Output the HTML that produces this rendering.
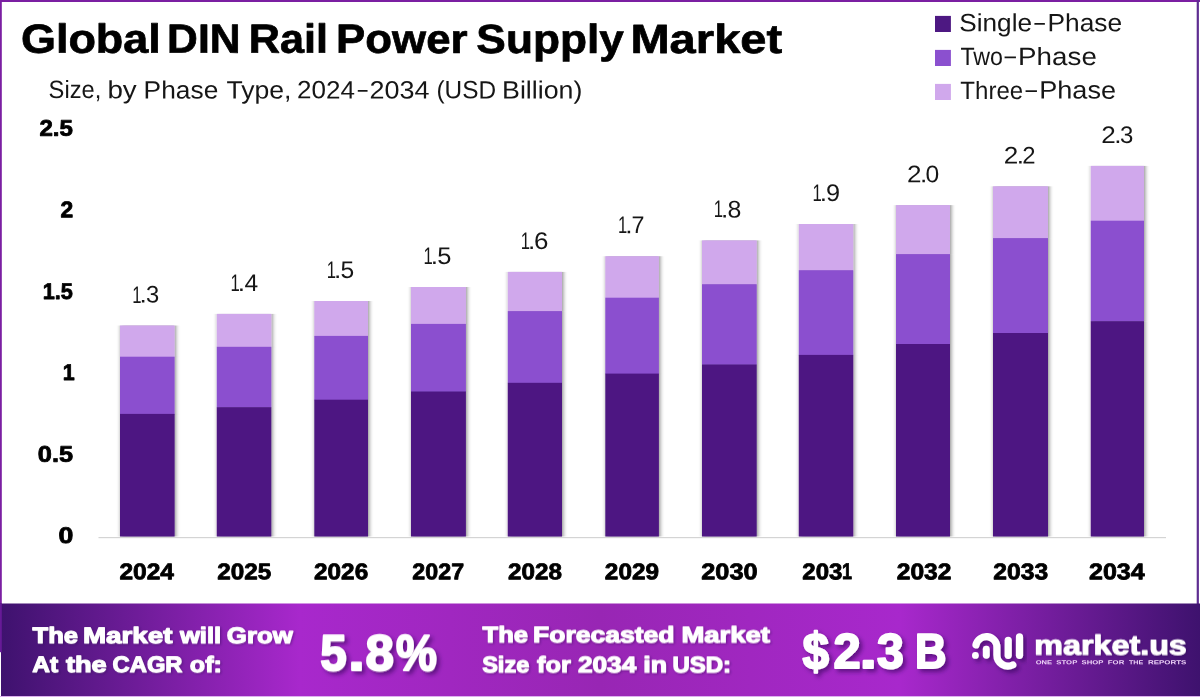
<!DOCTYPE html>
<html lang="en"><head><meta charset="utf-8"><title>Global DIN Rail Power Supply Market</title>
<style>
html,body{margin:0;padding:0;background:#fff}
body{width:1200px;height:697px;overflow:hidden}
svg{display:block;font-family:"Liberation Sans",sans-serif;text-rendering:geometricPrecision}
</style></head><body>
<svg width="1200" height="697" viewBox="0 0 1200 697">
<defs>
<linearGradient id="fg" x1="0" y1="0" x2="1" y2="0">
<stop offset="0" stop-color="#3e126e"/>
<stop offset="0.25" stop-color="#a828cc"/>
<stop offset="0.5" stop-color="#9826b4"/>
<stop offset="0.75" stop-color="#a828cc"/>
<stop offset="1" stop-color="#3e126e"/>
</linearGradient>
<filter id="bs" x="-20%" y="-5%" width="140%" height="110%"><feGaussianBlur in="SourceAlpha" stdDeviation="2.1 0.5"/><feOffset dx="0.7" dy="0.2"/><feComponentTransfer><feFuncA type="linear" slope="0.5"/></feComponentTransfer><feMerge><feMergeNode/><feMergeNode in="SourceGraphic"/></feMerge></filter>
<filter id="ts" x="-10%" y="-20%" width="120%" height="150%"><feDropShadow dx="1.2" dy="1.2" stdDeviation="1.2" flood-color="#2a0050" flood-opacity="0.4"/></filter>
<filter id="ts2" x="-10%" y="-20%" width="125%" height="160%"><feDropShadow dx="3" dy="3" stdDeviation="2.2" flood-color="#2a0050" flood-opacity="0.55"/></filter>
</defs>
<rect width="1200" height="697" fill="#fff"/>

<rect x="0" y="0" width="1200" height="2" fill="#7b1fa2"/>
<rect x="0" y="0" width="1.8" height="604" fill="#7b1fa2"/>
<rect x="1196.7" y="0" width="2.2" height="604" fill="#5e2d91"/>
<text transform="matrix(1 0.0005 0 1 0 0)" y="52.70" font-size="40.8" font-weight="700" fill="#000" stroke="#000" stroke-width="0.7" stroke-linejoin="round"><tspan x="20.91" textLength="139.93" lengthAdjust="spacingAndGlyphs">Global</tspan> <tspan x="167.10" textLength="73.42" lengthAdjust="spacingAndGlyphs">DIN</tspan> <tspan x="248.76" textLength="79.25" lengthAdjust="spacingAndGlyphs">Rail</tspan> <tspan x="336.12" textLength="131.49" lengthAdjust="spacingAndGlyphs">Power</tspan> <tspan x="476.38" textLength="147.51" lengthAdjust="spacingAndGlyphs">Supply</tspan> <tspan x="630.40" textLength="151.83" lengthAdjust="spacingAndGlyphs">Market</tspan></text>
<text transform="matrix(1 0.0005 0 1 0 0)" y="98.32" font-size="25" font-weight="400" fill="#161616"><tspan x="48.62" textLength="52.71" lengthAdjust="spacingAndGlyphs">Size,</tspan> <tspan x="107.41" textLength="29.35" lengthAdjust="spacingAndGlyphs">by</tspan> <tspan x="143.64" textLength="74.73" lengthAdjust="spacingAndGlyphs">Phase</tspan> <tspan x="226.42" textLength="65.12" lengthAdjust="spacingAndGlyphs">Type,</tspan></text>
<text transform="matrix(1 0.0005 0 1 0 0)" y="98.22" font-size="25" font-weight="400" fill="#161616"><tspan x="296.99" y="98.22" textLength="57.97" lengthAdjust="spacingAndGlyphs">2024</tspan><tspan x="356.12" y="97.32" textLength="13.37" lengthAdjust="spacingAndGlyphs">-</tspan><tspan x="369.44" y="98.22" textLength="60.05" lengthAdjust="spacingAndGlyphs">2034</tspan></text>
<text transform="matrix(1 0.0005 0 1 0 0)" y="98.15" font-size="25" font-weight="400" fill="#161616"><tspan x="436.49" textLength="59.68" lengthAdjust="spacingAndGlyphs">(USD</tspan> <tspan x="502.00" textLength="80.46" lengthAdjust="spacingAndGlyphs">Billion)</tspan></text>
<rect x="935" y="15.9" width="15.9" height="16.1" fill="#4d1882"/>
<text transform="matrix(1 0.0005 0 1 0 0)" y="30.78" font-size="25" font-weight="400" fill="#161616"><tspan x="959.21" y="30.78" textLength="72.85" lengthAdjust="spacingAndGlyphs">Single</tspan><tspan x="1032.49" y="29.88" textLength="14.32" lengthAdjust="spacingAndGlyphs">-</tspan><tspan x="1047.44" y="30.78" textLength="74.73" lengthAdjust="spacingAndGlyphs">Phase</tspan></text>
<rect x="935" y="49.9" width="15.9" height="16.1" fill="#8b50cf"/>
<text transform="matrix(1 0.0005 0 1 0 0)" y="64.44" font-size="25" font-weight="400" fill="#161616"><tspan x="960.39" y="64.44" textLength="42.55" lengthAdjust="spacingAndGlyphs">Two</tspan><tspan x="1002.53" y="63.54" textLength="15.55" lengthAdjust="spacingAndGlyphs">-</tspan><tspan x="1018.12" y="64.44" textLength="78.71" lengthAdjust="spacingAndGlyphs">Phase</tspan></text>
<rect x="935" y="83.9" width="15.9" height="16.1" fill="#d0a8ec"/>
<text transform="matrix(1 0.0005 0 1 0 0)" y="98.08" font-size="25" font-weight="400" fill="#161616"><tspan x="960.36" y="98.08" textLength="62.81" lengthAdjust="spacingAndGlyphs">Three</tspan><tspan x="1023.53" y="97.18" textLength="15.55" lengthAdjust="spacingAndGlyphs">-</tspan><tspan x="1039.17" y="98.08" textLength="76.93" lengthAdjust="spacingAndGlyphs">Phase</tspan></text>
<text transform="matrix(1 0.0005 0 1 0 0)" y="543.07" font-size="22.7" font-weight="700" fill="#000" stroke="#000" stroke-width="0.8" stroke-linejoin="round"><tspan x="58.54" textLength="14.85" lengthAdjust="spacingAndGlyphs">0</tspan></text>
<text transform="matrix(1 0.0005 0 1 0 0)" y="461.62" font-size="22.7" font-weight="700" fill="#000" stroke="#000" stroke-width="0.8" stroke-linejoin="round"><tspan x="37.80" textLength="35.21" lengthAdjust="spacingAndGlyphs">0.5</tspan></text>
<text transform="matrix(1 0.0005 0 1 0 0)" y="380.17" font-size="22.7" font-weight="700" fill="#000" stroke="#000" stroke-width="0.8" stroke-linejoin="round"><tspan x="62.65" textLength="11.95" lengthAdjust="spacingAndGlyphs">1</tspan></text>
<text transform="matrix(1 0.0005 0 1 0 0)" y="298.72" font-size="22.7" font-weight="700" fill="#000" stroke="#000" stroke-width="0.8" stroke-linejoin="round"><tspan x="42.73" textLength="30.17" lengthAdjust="spacingAndGlyphs">1.5</tspan></text>
<text transform="matrix(1 0.0005 0 1 0 0)" y="217.27" font-size="22.7" font-weight="700" fill="#000" stroke="#000" stroke-width="0.8" stroke-linejoin="round"><tspan x="60.51" textLength="12.71" lengthAdjust="spacingAndGlyphs">2</tspan></text>
<text transform="matrix(1 0.0005 0 1 0 0)" y="135.82" font-size="22.7" font-weight="700" fill="#000" stroke="#000" stroke-width="0.8" stroke-linejoin="round"><tspan x="39.46" textLength="33.51" lengthAdjust="spacingAndGlyphs">2.5</tspan></text>
<rect x="98.5" y="537" width="1067.5" height="1.2" fill="#d4d4d4"/>
<g filter="url(#bs)"><rect x="120.0" y="325.5" width="54.6" height="31.7" fill="#d0a8ec"/><rect x="120.0" y="356.7" width="54.6" height="57.7" fill="#8b50cf"/><rect x="120.0" y="413.9" width="54.6" height="122.6" fill="#4d1882"/></g>
<text transform="matrix(1 0.0005 0 1 0 0)" y="302.53" font-size="24" font-weight="400" fill="#161616"><tspan x="132.23" textLength="9.29" lengthAdjust="spacingAndGlyphs">1</tspan><tspan x="139.50" textLength="7.29" lengthAdjust="spacingAndGlyphs">.</tspan><tspan x="145.99" textLength="13.26" lengthAdjust="spacingAndGlyphs">3</tspan></text>
<text transform="matrix(1 0.0005 0 1 0 0)" y="579.23" font-size="22.7" font-weight="700" fill="#000" stroke="#000" stroke-width="0.8" stroke-linejoin="round"><tspan x="119.45" textLength="54.58" lengthAdjust="spacingAndGlyphs">2024</tspan></text>
<g filter="url(#bs)"><rect x="216.8" y="313.9" width="54.5" height="33.4" fill="#d0a8ec"/><rect x="216.8" y="346.8" width="54.5" height="60.8" fill="#8b50cf"/><rect x="216.8" y="407.2" width="54.5" height="129.3" fill="#4d1882"/></g>
<text transform="matrix(1 0.0005 0 1 0 0)" y="290.88" font-size="24" font-weight="400" fill="#161616"><tspan x="230.43" textLength="9.29" lengthAdjust="spacingAndGlyphs">1</tspan><tspan x="237.70" textLength="7.29" lengthAdjust="spacingAndGlyphs">.</tspan><tspan x="244.54" textLength="13.69" lengthAdjust="spacingAndGlyphs">4</tspan></text>
<text transform="matrix(1 0.0005 0 1 0 0)" y="579.18" font-size="22.7" font-weight="700" fill="#000" stroke="#000" stroke-width="0.8" stroke-linejoin="round"><tspan x="217.26" textLength="54.02" lengthAdjust="spacingAndGlyphs">2025</tspan></text>
<g filter="url(#bs)"><rect x="314.3" y="301.0" width="53.7" height="35.4" fill="#d0a8ec"/><rect x="314.3" y="335.9" width="53.7" height="64.3" fill="#8b50cf"/><rect x="314.3" y="399.7" width="53.7" height="136.8" fill="#4d1882"/></g>
<text transform="matrix(1 0.0005 0 1 0 0)" y="277.93" font-size="24" font-weight="400" fill="#161616"><tspan x="326.73" textLength="9.29" lengthAdjust="spacingAndGlyphs">1</tspan><tspan x="334.00" textLength="7.29" lengthAdjust="spacingAndGlyphs">.</tspan><tspan x="340.41" textLength="13.72" lengthAdjust="spacingAndGlyphs">5</tspan></text>
<text transform="matrix(1 0.0005 0 1 0 0)" y="579.13" font-size="22.7" font-weight="700" fill="#000" stroke="#000" stroke-width="0.8" stroke-linejoin="round"><tspan x="314.06" textLength="54.12" lengthAdjust="spacingAndGlyphs">2026</tspan></text>
<g filter="url(#bs)"><rect x="411.0" y="287.0" width="54.9" height="37.4" fill="#d0a8ec"/><rect x="411.0" y="323.9" width="54.9" height="68.1" fill="#8b50cf"/><rect x="411.0" y="391.5" width="54.9" height="145.0" fill="#4d1882"/></g>
<text transform="matrix(1 0.0005 0 1 0 0)" y="263.88" font-size="24" font-weight="400" fill="#161616"><tspan x="423.53" textLength="9.29" lengthAdjust="spacingAndGlyphs">1</tspan><tspan x="430.80" textLength="7.29" lengthAdjust="spacingAndGlyphs">.</tspan><tspan x="437.18" textLength="14.19" lengthAdjust="spacingAndGlyphs">5</tspan></text>
<text transform="matrix(1 0.0005 0 1 0 0)" y="579.08" font-size="22.7" font-weight="700" fill="#000" stroke="#000" stroke-width="0.8" stroke-linejoin="round"><tspan x="412.39" textLength="51.73" lengthAdjust="spacingAndGlyphs">2027</tspan></text>
<g filter="url(#bs)"><rect x="507.8" y="271.9" width="54.2" height="39.7" fill="#d0a8ec"/><rect x="507.8" y="311.1" width="54.2" height="72.2" fill="#8b50cf"/><rect x="507.8" y="382.8" width="54.2" height="153.7" fill="#4d1882"/></g>
<text transform="matrix(1 0.0005 0 1 0 0)" y="248.73" font-size="24" font-weight="400" fill="#161616"><tspan x="520.63" textLength="9.29" lengthAdjust="spacingAndGlyphs">1</tspan><tspan x="527.90" textLength="7.29" lengthAdjust="spacingAndGlyphs">.</tspan><tspan x="533.98" textLength="14.46" lengthAdjust="spacingAndGlyphs">6</tspan></text>
<text transform="matrix(1 0.0005 0 1 0 0)" y="579.03" font-size="22.7" font-weight="700" fill="#000" stroke="#000" stroke-width="0.8" stroke-linejoin="round"><tspan x="508.06" textLength="53.99" lengthAdjust="spacingAndGlyphs">2028</tspan></text>
<g filter="url(#bs)"><rect x="605.3" y="256.2" width="53.6" height="42.0" fill="#d0a8ec"/><rect x="605.3" y="297.7" width="53.6" height="76.5" fill="#8b50cf"/><rect x="605.3" y="373.6" width="53.6" height="162.9" fill="#4d1882"/></g>
<text transform="matrix(1 0.0005 0 1 0 0)" y="232.98" font-size="24" font-weight="400" fill="#161616"><tspan x="617.93" textLength="9.29" lengthAdjust="spacingAndGlyphs">1</tspan><tspan x="625.20" textLength="7.29" lengthAdjust="spacingAndGlyphs">.</tspan><tspan x="631.40" textLength="12.97" lengthAdjust="spacingAndGlyphs">7</tspan></text>
<text transform="matrix(1 0.0005 0 1 0 0)" y="578.98" font-size="22.7" font-weight="700" fill="#000" stroke="#000" stroke-width="0.8" stroke-linejoin="round"><tspan x="604.86" textLength="54.15" lengthAdjust="spacingAndGlyphs">2029</tspan></text>
<g filter="url(#bs)"><rect x="702.0" y="240.4" width="54.7" height="44.3" fill="#d0a8ec"/><rect x="702.0" y="284.2" width="54.7" height="80.7" fill="#8b50cf"/><rect x="702.0" y="364.5" width="54.7" height="172.0" fill="#4d1882"/></g>
<text transform="matrix(1 0.0005 0 1 0 0)" y="217.14" font-size="24" font-weight="400" fill="#161616"><tspan x="713.83" textLength="9.29" lengthAdjust="spacingAndGlyphs">1</tspan><tspan x="721.10" textLength="7.29" lengthAdjust="spacingAndGlyphs">.</tspan><tspan x="727.42" textLength="13.87" lengthAdjust="spacingAndGlyphs">8</tspan></text>
<text transform="matrix(1 0.0005 0 1 0 0)" y="578.94" font-size="22.7" font-weight="700" fill="#000" stroke="#000" stroke-width="0.8" stroke-linejoin="round"><tspan x="701.22" textLength="56.42" lengthAdjust="spacingAndGlyphs">2030</tspan></text>
<g filter="url(#bs)"><rect x="798.8" y="224.0" width="54.4" height="46.8" fill="#d0a8ec"/><rect x="798.8" y="270.2" width="54.4" height="85.2" fill="#8b50cf"/><rect x="798.8" y="354.9" width="54.4" height="181.6" fill="#4d1882"/></g>
<text transform="matrix(1 0.0005 0 1 0 0)" y="200.69" font-size="24" font-weight="400" fill="#161616"><tspan x="812.53" textLength="9.29" lengthAdjust="spacingAndGlyphs">1</tspan><tspan x="819.80" textLength="7.29" lengthAdjust="spacingAndGlyphs">.</tspan><tspan x="826.01" textLength="14.09" lengthAdjust="spacingAndGlyphs">9</tspan></text>
<text transform="matrix(1 0.0005 0 1 0 0)" y="578.89" font-size="22.7" font-weight="700" fill="#000" stroke="#000" stroke-width="0.8" stroke-linejoin="round"><tspan x="802.27" textLength="40.10" lengthAdjust="spacingAndGlyphs">203</tspan><tspan x="842.06" textLength="10.04" lengthAdjust="spacingAndGlyphs">1</tspan></text>
<g filter="url(#bs)"><rect x="896.0" y="205.1" width="54.0" height="49.5" fill="#d0a8ec"/><rect x="896.0" y="254.1" width="54.0" height="90.3" fill="#8b50cf"/><rect x="896.0" y="344.0" width="54.0" height="192.5" fill="#4d1882"/></g>
<text transform="matrix(1 0.0005 0 1 0 0)" y="181.74" font-size="24" font-weight="400" fill="#161616"><tspan x="906.99" textLength="14.53" lengthAdjust="spacingAndGlyphs">2</tspan><tspan x="919.90" textLength="7.29" lengthAdjust="spacingAndGlyphs">.</tspan><tspan x="925.64" textLength="13.73" lengthAdjust="spacingAndGlyphs">0</tspan></text>
<text transform="matrix(1 0.0005 0 1 0 0)" y="578.84" font-size="22.7" font-weight="700" fill="#000" stroke="#000" stroke-width="0.8" stroke-linejoin="round"><tspan x="896.75" textLength="54.74" lengthAdjust="spacingAndGlyphs">2032</tspan></text>
<g filter="url(#bs)"><rect x="993.0" y="186.3" width="55.0" height="52.3" fill="#d0a8ec"/><rect x="993.0" y="238.1" width="55.0" height="95.4" fill="#8b50cf"/><rect x="993.0" y="333.0" width="55.0" height="203.5" fill="#4d1882"/></g>
<text transform="matrix(1 0.0005 0 1 0 0)" y="162.89" font-size="24" font-weight="400" fill="#161616"><tspan x="1003.79" textLength="14.53" lengthAdjust="spacingAndGlyphs">2</tspan><tspan x="1016.70" textLength="7.29" lengthAdjust="spacingAndGlyphs">.</tspan><tspan x="1022.20" textLength="13.31" lengthAdjust="spacingAndGlyphs">2</tspan></text>
<text transform="matrix(1 0.0005 0 1 0 0)" y="578.79" font-size="22.7" font-weight="700" fill="#000" stroke="#000" stroke-width="0.8" stroke-linejoin="round"><tspan x="993.35" textLength="54.85" lengthAdjust="spacingAndGlyphs">2033</tspan></text>
<g filter="url(#bs)"><rect x="1090.8" y="165.9" width="53.2" height="55.3" fill="#d0a8ec"/><rect x="1090.8" y="220.7" width="53.2" height="100.9" fill="#8b50cf"/><rect x="1090.8" y="321.2" width="53.2" height="215.3" fill="#4d1882"/></g>
<text transform="matrix(1 0.0005 0 1 0 0)" y="142.44" font-size="24" font-weight="400" fill="#161616"><tspan x="1101.29" textLength="14.53" lengthAdjust="spacingAndGlyphs">2</tspan><tspan x="1114.20" textLength="7.29" lengthAdjust="spacingAndGlyphs">.</tspan><tspan x="1119.98" textLength="13.37" lengthAdjust="spacingAndGlyphs">3</tspan></text>
<text transform="matrix(1 0.0005 0 1 0 0)" y="578.74" font-size="22.7" font-weight="700" fill="#000" stroke="#000" stroke-width="0.8" stroke-linejoin="round"><tspan x="1089.03" textLength="55.70" lengthAdjust="spacingAndGlyphs">2034</tspan></text>
<rect x="0" y="603.5" width="1200" height="93.5" fill="url(#fg)"/>
<rect x="0" y="603.5" width="1.8" height="48.7" fill="#671a97"/>
<rect x="0" y="652.2" width="1" height="45" fill="#fff"/>
<rect x="0" y="696" width="1200" height="1" fill="#dcb0ee"/>
<text transform="matrix(1 0.0005 0 1 0 0)" y="642.52" font-size="22.4" font-weight="700" fill="#fff" stroke="#fff" stroke-width="1.1" stroke-linejoin="round" filter="url(#ts)"><tspan x="32.56" textLength="45.46" lengthAdjust="spacingAndGlyphs">The</tspan> <tspan x="82.99" textLength="89.50" lengthAdjust="spacingAndGlyphs">Market</tspan> <tspan x="179.93" textLength="41.34" lengthAdjust="spacingAndGlyphs">will</tspan> <tspan x="226.89" textLength="65.81" lengthAdjust="spacingAndGlyphs">Grow</tspan></text>
<text transform="matrix(1 0.0005 0 1 0 0)" y="672.44" font-size="22.4" font-weight="700" fill="#fff" stroke="#fff" stroke-width="1.1" stroke-linejoin="round" filter="url(#ts)"><tspan x="32.24" textLength="25.81" lengthAdjust="spacingAndGlyphs">At</tspan> <tspan x="65.92" textLength="40.76" lengthAdjust="spacingAndGlyphs">the</tspan> <tspan x="112.58" textLength="69.96" lengthAdjust="spacingAndGlyphs">CAGR</tspan> <tspan x="189.87" textLength="31.99" lengthAdjust="spacingAndGlyphs">of:</tspan></text>
<text transform="matrix(1 0.0005 0 1 0 0)" y="669.61" font-size="50.6" font-weight="700" fill="#fff" stroke="#fff" stroke-width="2.0" stroke-linejoin="round" filter="url(#ts2)"><tspan x="320.14" textLength="26.38" lengthAdjust="spacingAndGlyphs">5</tspan><tspan x="348.26" textLength="16.54" lengthAdjust="spacingAndGlyphs">.</tspan><tspan x="365.38" textLength="28.39" lengthAdjust="spacingAndGlyphs">8</tspan><tspan x="395.96" textLength="40.86" lengthAdjust="spacingAndGlyphs">%</tspan></text>
<text transform="matrix(1 0.0005 0 1 0 0)" y="642.29" font-size="22.4" font-weight="700" fill="#fff" stroke="#fff" stroke-width="1.1" stroke-linejoin="round" filter="url(#ts)"><tspan x="482.56" textLength="45.46" lengthAdjust="spacingAndGlyphs">The</tspan> <tspan x="533.08" textLength="141.42" lengthAdjust="spacingAndGlyphs">Forecasted</tspan> <tspan x="681.42" textLength="88.37" lengthAdjust="spacingAndGlyphs">Market</tspan></text>
<text transform="matrix(1 0.0005 0 1 0 0)" y="672.20" font-size="22.4" font-weight="700" fill="#fff" stroke="#fff" stroke-width="1.1" stroke-linejoin="round" filter="url(#ts)"><tspan x="482.17" textLength="47.08" lengthAdjust="spacingAndGlyphs">Size</tspan> <tspan x="537.12" textLength="33.72" lengthAdjust="spacingAndGlyphs">for</tspan> <tspan x="577.94" textLength="58.35" lengthAdjust="spacingAndGlyphs">2034</tspan> <tspan x="643.39" textLength="23.72" lengthAdjust="spacingAndGlyphs">in</tspan> <tspan x="672.41" textLength="58.65" lengthAdjust="spacingAndGlyphs">USD:</tspan></text>
<g filter="url(#ts2)">
<text transform="matrix(1 0.0005 0 1 0 0)" y="667.67" font-size="49" font-weight="700" fill="#fff" stroke="#fff" stroke-width="2.0" stroke-linejoin="round"><tspan x="802.57" font-size="51.5" y="668.47" textLength="26.50" lengthAdjust="spacingAndGlyphs">$</tspan><tspan x="833.61" y="667.67" textLength="27.15" lengthAdjust="spacingAndGlyphs">2</tspan><tspan x="859.82" y="667.67" textLength="17.13" lengthAdjust="spacingAndGlyphs">.</tspan><tspan x="877.09" y="667.67" textLength="26.85" lengthAdjust="spacingAndGlyphs">3</tspan></text>
<text transform="matrix(1 0.0005 0 1 0 0)" y="667.63" font-size="49" font-weight="700" fill="#fff" stroke="#fff" stroke-width="2.0" stroke-linejoin="round"><tspan x="914.98" textLength="31.50" lengthAdjust="spacingAndGlyphs">B</tspan></text>
</g>
<g filter="url(#ts2)" fill="none" stroke="#fff" stroke-width="7.2" stroke-linecap="round">
<path d="M975.95 644.9 A10.6 10.6 0 0 1 996.9 647.3 L996.9 655 A11 11 0 0 0 1012.8 664.9"/>
<path d="M986.3 649.3 V655.3" stroke-width="6.9"/>
<path d="M1008.2 640.3 V655.3"/>
<path d="M1019.5 636.9 V655.3"/>
<circle cx="975.4" cy="655.4" r="3.4" fill="#fff" stroke="none"/>
</g>
<text transform="matrix(1 0.0005 0 1 0 0)" y="653.54" font-size="27.6" font-weight="700" fill="#fff" stroke="#fff" stroke-width="1.0" stroke-linejoin="round" filter="url(#ts)"><tspan x="1034.37" textLength="152.45" lengthAdjust="spacingAndGlyphs">market.us</tspan></text>
<text transform="matrix(1 0.0005 0 1 0 0)" y="663.64" font-size="5.8" font-weight="700" fill="#ecd0f7"><tspan x="1035.69" textLength="16.41" lengthAdjust="spacingAndGlyphs">ONE</tspan> <tspan x="1056.38" textLength="20.78" lengthAdjust="spacingAndGlyphs">STOP</tspan> <tspan x="1081.58" textLength="21.78" lengthAdjust="spacingAndGlyphs">SHOP</tspan> <tspan x="1107.88" textLength="16.38" lengthAdjust="spacingAndGlyphs">FOR</tspan> <tspan x="1128.92" textLength="14.26" lengthAdjust="spacingAndGlyphs">THE</tspan> <tspan x="1147.97" textLength="38.34" lengthAdjust="spacingAndGlyphs">REPORTS</tspan></text>
</svg></body></html>
